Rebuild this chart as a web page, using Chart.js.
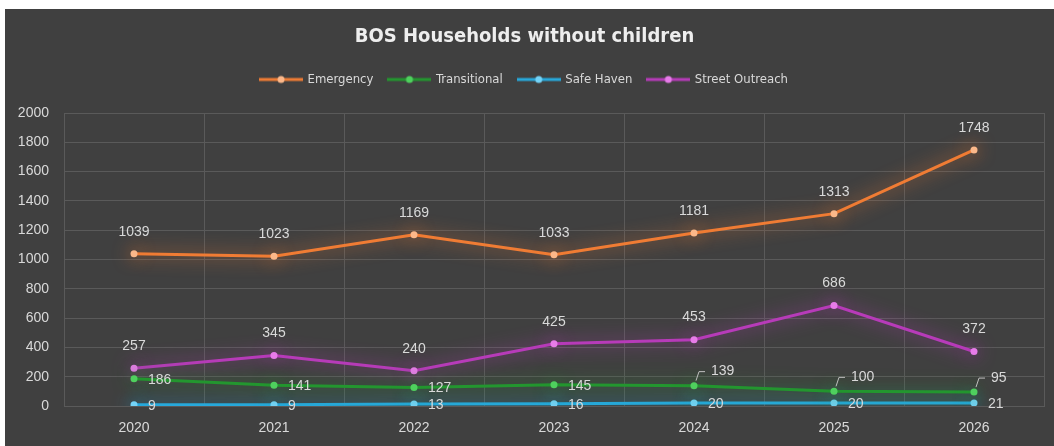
<!DOCTYPE html>
<html>
<head>
<meta charset="utf-8">
<script src="https://cdn.jsdelivr.net/npm/chart.js@4/dist/chart.umd.min.js"></script>
<style>
  html, body { margin: 0; padding: 0; background: #ffffff; }
  #wrap {
    position: absolute; left: 5px; top: 9px;
    width: 1049px; height: 437px; background: #404040;
  }
</style>
</head>
<body>
<div id="wrap"><canvas id="chart"></canvas></div>
<script>
const years = ["2020", "2021", "2022", "2023", "2024", "2025", "2026"];
const emergency = [1039, 1023, 1169, 1033, 1181, 1313, 1748];
const transitional = [186, 141, 127, 145, 139, 100, 95];
const safeHaven = [9, 9, 13, 16, 20, 20, 21];
const streetOutreach = [257, 345, 240, 425, 453, 686, 372];
const yTicks = [0, 200, 400, 600, 800, 1000, 1200, 1400, 1600, 1800, 2000];

const textColor = "#d9d9d9";
const narrow = "'Liberation Sans Narrow', 'DejaVu Sans Condensed', sans-serif";

// line colour, point colour, glow colour, label placement
const styles = [
  { line: "#f07c34", point: "#fbb88a", glow: "rgba(240,124,52,0.95)", pos: "above" },
  { line: "#23962f", point: "#4fd05e", glow: "rgba(35,150,47,0.9)", pos: "right" },
  { line: "#27a9dc", point: "#74d3f7", glow: "rgba(39,169,220,0.95)", pos: "right" },
  { line: "#b73bb9", point: "#e77ce9", glow: "rgba(183,59,185,0.95)", pos: "above" },
];

// transitional labels pushed up with a small leader line
const calloutIdx = [4, 5, 6];

function legendIcon(s) {
  const c = document.createElement("canvas");
  c.width = 44; c.height = 10;
  const g = c.getContext("2d");
  g.strokeStyle = s.line; g.lineWidth = 3;
  g.beginPath(); g.moveTo(0, 5); g.lineTo(44, 5); g.stroke();
  g.fillStyle = s.point;
  g.beginPath(); g.arc(22, 5, 3.5, 0, Math.PI * 2); g.fill();
  return c;
}

// extra room under the legend
const legendGap = {
  id: "legendGap",
  beforeUpdate(chart) {
    const lg = chart.legend;
    if (lg && !lg._gapPatched) {
      const fit = lg.fit;
      lg.fit = function () { fit.call(this); this.height += 17; };
      lg._gapPatched = true;
    }
  }
};

const glow = {
  id: "glow",
  beforeDatasetDraw(chart, args) {
    const ctx = chart.ctx;
    ctx.save();
    ctx.shadowColor = styles[args.index].glow;
    ctx.shadowBlur = 18;
  },
  afterDatasetDraw(chart) {
    chart.ctx.restore();
  }
};

const valueLabels = {
  id: "valueLabels",
  afterDatasetsDraw(chart) {
    const ctx = chart.ctx;
    ctx.save();
    ctx.font = "14px 'Liberation Sans', Arial, sans-serif";
    ctx.fillStyle = textColor;
    ctx.strokeStyle = "#bfbfbf";
    ctx.lineWidth = 1;
    chart.data.datasets.forEach((ds, di) => {
      const meta = chart.getDatasetMeta(di);
      meta.data.forEach((pt, i) => {
        const txt = String(ds.data[i]);
        if (styles[di].pos === "above") {
          ctx.textAlign = "center";
          ctx.textBaseline = "middle";
          ctx.fillText(txt, pt.x, pt.y - 22);
        } else if (di === 1 && calloutIdx.includes(i)) {
          ctx.beginPath();
          ctx.moveTo(pt.x + 2, pt.y - 5);
          ctx.lineTo(pt.x + 5, pt.y - 14);
          ctx.lineTo(pt.x + 11, pt.y - 14);
          ctx.stroke();
          ctx.textAlign = "left";
          ctx.textBaseline = "middle";
          ctx.fillText(txt, pt.x + 17, pt.y - 14);
        } else {
          ctx.textAlign = "left";
          ctx.textBaseline = "middle";
          ctx.fillText(txt, pt.x + 14, pt.y + 1);
        }
      });
    });
    ctx.restore();
  }
};

const series = [
  ["Emergency", emergency],
  ["Transitional", transitional],
  ["Safe Haven", safeHaven],
  ["Street Outreach", streetOutreach],
];

new Chart(document.getElementById("chart"), {
  type: "line",
  data: {
    labels: years,
    datasets: series.map(([name, vals], i) => ({
      label: name,
      data: vals,
      borderColor: styles[i].line,
      backgroundColor: styles[i].point,
      pointBackgroundColor: styles[i].point,
      pointBorderColor: styles[i].point,
      pointBorderWidth: 0,
      borderWidth: 3,
      pointRadius: 3.5,
      tension: 0,
    })),
  },
  options: {
    responsive: true,
    maintainAspectRatio: false,
    animation: false,
    layout: { padding: { left: 0, right: 10, top: 0, bottom: 0 } },
    plugins: {
      title: {
        display: true,
        text: "BOS Households without children",
        color: "#eeeeee",
        font: { family: narrow, size: 20, weight: "bold" },
        padding: { top: 16, bottom: 8 },
      },
      legend: {
        labels: {
          color: textColor,
          font: { family: narrow, size: 13 },
          usePointStyle: true,
          pointStyleWidth: 40,
          padding: 16,
          generateLabels(chart) {
            const items = Chart.defaults.plugins.legend.labels.generateLabels(chart);
            items.forEach((it, i) => { it.pointStyle = legendIcon(styles[i]); });
            return items;
          },
        },
      },
      tooltip: { enabled: false },
    },
    scales: {
      x: {
        offset: true,
        grid: { color: "#5a5a5a", drawTicks: false, offset: true },
        border: { color: "#5a5a5a" },
        ticks: { color: textColor, font: { size: 14 }, padding: 14 },
        afterFit(scale) { scale.height = 40; },
      },
      y: {
        min: 0,
        max: 2000,
        afterBuildTicks(scale) { scale.ticks = yTicks.map(v => ({ value: v })); },
        grid: { color: "#5a5a5a", drawTicks: false },
        border: { display: false },
        ticks: {
          color: textColor,
          font: { size: 14 },
          padding: 15,
          callback: (v) => String(v),
        },
        afterFit(scale) { scale.width = 59; },
      },
    },
  },
  plugins: [legendGap, glow, valueLabels],
});
</script>
</body>
</html>
